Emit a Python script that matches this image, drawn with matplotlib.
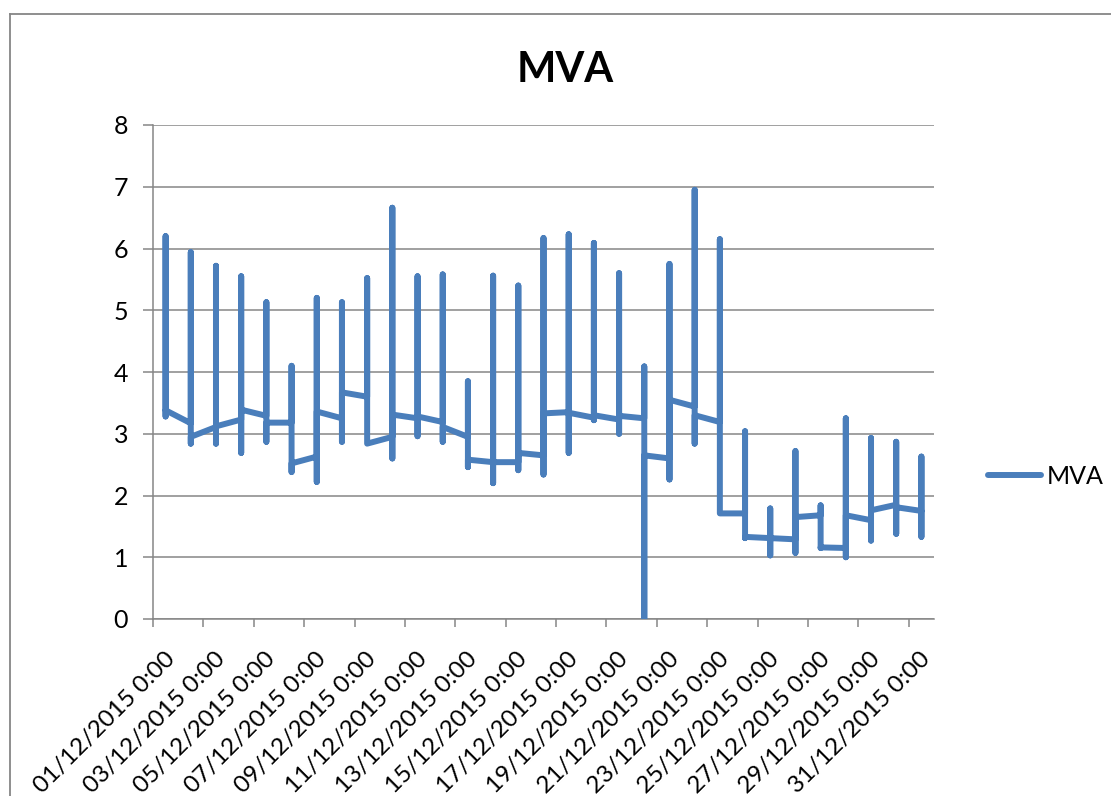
import matplotlib
matplotlib.use("Agg")
import matplotlib.pyplot as plt
from matplotlib.lines import Line2D
from matplotlib.transforms import ScaledTranslation, blended_transform_factory
import pandas as pd
import numpy as np

# ---- data ----
dates = pd.date_range("2015-12-01", "2015-12-31", freq="D")
day_first = [3.38, 3.17, 3.11, 3.23, 3.29, 3.18, 2.63, 3.25, 3.60, 2.95, 3.25, 3.19, 2.95, 2.54, 2.54, 2.65,
             3.35, 3.26, 3.23, 3.25, 2.60, 3.44, 3.19, 1.71, 1.31, 1.29, 1.68, 1.15, 1.60, 1.85, 1.75]
day_high = [6.20, 5.94, 5.72, 5.55, 5.13, 4.10, 5.20, 5.13, 5.52, 6.66, 5.55, 5.58, 3.85, 5.56, 5.40, 6.17,
            6.23, 6.09, 5.60, 4.09, 5.75, 6.95, 6.15, 3.04, 1.79, 2.72, 1.84, 3.25, 2.93, 2.87, 2.63]
day_low = [3.28, 2.84, 2.84, 2.69, 2.87, 2.38, 2.22, 2.87, 2.84, 2.60, 2.96, 2.87, 2.46, 2.20, 2.41, 2.34,
           2.69, 3.22, 3.00, 0.00, 2.26, 2.84, 1.71, 1.31, 1.03, 1.07, 1.15, 1.00, 1.27, 1.38, 1.33]
day_last = [3.38, 2.95, 3.12, 3.39, 3.18, 2.52, 3.36, 3.67, 2.84, 3.31, 3.28, 3.11, 2.58, 2.54, 2.69, 3.33,
            3.34, 3.30, 3.29, 2.65, 3.55, 3.30, 1.71, 1.33, 1.31, 1.65, 1.16, 1.68, 1.76, 1.81, 1.75]
y_ticks = [0, 1, 2, 3, 4, 5, 6, 7, 8]
series_name = "MVA"

# build the series: all readings of a day share the day's category position
xs, ys = [], []
for i in range(len(dates)):
    for v in (day_first[i], day_high[i], day_low[i], day_last[i]):
        xs.append(i + 0.5)
        ys.append(v)

FONT = ["Lato", "DejaVu Sans"]
plt.rcParams["font.family"] = FONT

W, H, DPI = 1111, 796, 100
fig = plt.figure(figsize=(W / DPI, H / DPI), dpi=DPI)
fig.patch.set_facecolor("white")

left, right, top, bottom = 153, 934, 125, 619
ax = fig.add_axes([left / W, 1 - bottom / H, (right - left) / W, (bottom - top) / H])

GRAY = "#868686"
BLUE = "#4A7EBB"

line, = ax.plot(xs, ys, color=BLUE, lw=4.3, solid_capstyle="round",
                solid_joinstyle="round", label=series_name, zorder=3)

ax.set_xlim(0, len(dates))
ax.set_ylim(0, 8)
ax.set_yticks(y_ticks)
ax.set_yticklabels([str(t) for t in y_ticks])
ax.yaxis.grid(True, color=GRAY, lw=1.1)
ax.set_axisbelow(True)

for s in ("top", "right"):
    ax.spines[s].set_visible(False)
for s in ("left", "bottom"):
    ax.spines[s].set_color(GRAY)
    ax.spines[s].set_linewidth(1.1)

ax.tick_params(axis="y", direction="out", length=7, width=1.1, color=GRAY,
               labelsize=18, pad=11, labelcolor="black")
tick_pos = list(range(0, len(dates), 2))
ax.set_xticks(tick_pos)
ax.set_xticklabels([])
ax.tick_params(axis="x", direction="out", length=6, width=1.1, color=GRAY)

# rotated date labels
trans = blended_transform_factory(ax.transData, ax.transAxes) + \
    ScaledTranslation(11 / DPI, -29 / DPI, fig.dpi_scale_trans)
for p in tick_pos:
    lab = dates[p].strftime("%d/%m/%Y") + " 0:00"
    ax.text(p, 0, lab, transform=trans, rotation=45, rotation_mode="anchor",
            ha="right", va="top", fontsize=17.5, clip_on=False)

# title
fig.text(565 / W, 1 - 82 / H, series_name, ha="center", va="baseline",
         fontsize=30, fontweight="bold")

# legend
fig.legend(handles=[line], labels=[series_name], loc="center left",
           bbox_to_anchor=(988 / W, 1 - 476 / H), frameon=False,
           fontsize=18, handlelength=2.1, handletextpad=0.25,
           borderpad=0, borderaxespad=0)

# chart-area border (top and left visible in the crop)
fig.add_artist(Line2D([9.5 / W, 1.0], [1 - 14 / H, 1 - 14 / H], transform=fig.transFigure,
                      color=GRAY, lw=1.3))
fig.add_artist(Line2D([9.5 / W, 9.5 / W], [0, 1 - 14 / H], transform=fig.transFigure,
                      color=GRAY, lw=1.3))

fig.savefig("out.png", dpi=DPI, facecolor="white")
